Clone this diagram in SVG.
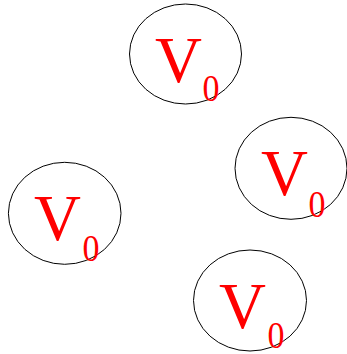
<svg xmlns="http://www.w3.org/2000/svg" width="347" height="354" viewBox="0 0 347 354">
<style>
.e{fill:none;stroke:#000;stroke-width:1}
.v{font-family:"Liberation Serif",serif;font-size:65px;fill:#f00}
.s{font-family:"Liberation Serif",serif;font-size:38px;fill:#f00}
</style>
<rect width="347" height="354" fill="#fff"/>
<g id="n1"><ellipse class="e" cx="185.5" cy="54" rx="56" ry="50"/><text class="v" x="155" y="82">V</text><text class="s" x="202.5" y="101" textLength="17" lengthAdjust="spacingAndGlyphs">0</text></g>
<g id="n2"><ellipse class="e" cx="64.7" cy="213.3" rx="56.3" ry="51"/><text class="v" x="34" y="240">V</text><text class="s" x="82.5" y="261" textLength="17" lengthAdjust="spacingAndGlyphs">0</text></g>
<g id="n3"><ellipse class="e" cx="291" cy="168.3" rx="56" ry="51"/><text class="v" x="261" y="195">V</text><text class="s" x="308.5" y="217" textLength="17" lengthAdjust="spacingAndGlyphs">0</text></g>
<g id="n4"><ellipse class="e" cx="250" cy="300.5" rx="56.5" ry="50.5"/><text class="v" x="219" y="327.5">V</text><text class="s" x="267.5" y="348" textLength="17" lengthAdjust="spacingAndGlyphs">0</text></g>
<g id="connectors"/>
</svg>
